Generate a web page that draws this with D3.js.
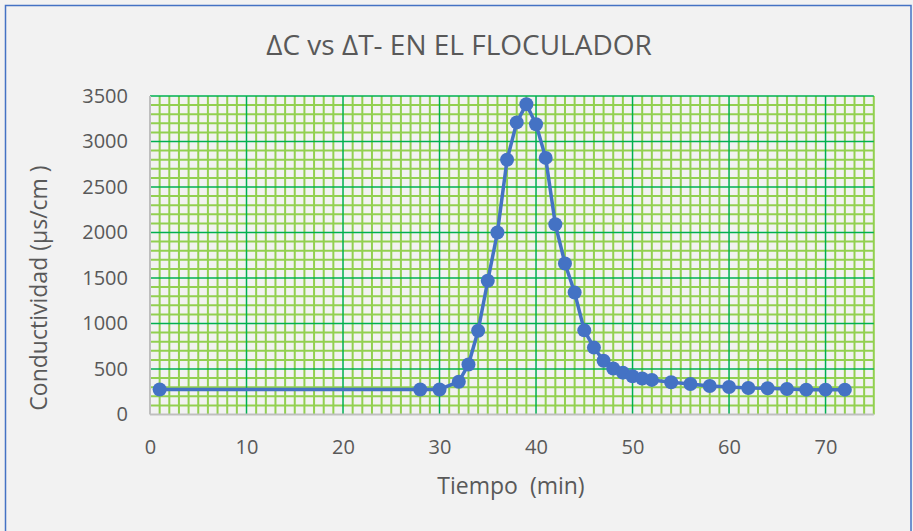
<!DOCTYPE html>
<html>
<head>
<meta charset="utf-8">
<script src="https://cdn.jsdelivr.net/npm/d3@7"></script>
<style>
  body { margin: 0; background: #f2f2f2; }
  text { font-family: "Open Sans", sans-serif; fill: #595959; white-space: pre; }
</style>
</head>
<body>
<script>
/* -----------------------------------------------------
 *  Data
 ----------------------------------------------------- */
const tiempo = [1, 28, 30, 32, 33, 34, 35, 36, 37, 38, 39, 40, 41, 42, 43, 44, 45, 46,
  47, 48, 49, 50, 51, 52, 54, 56, 58, 60, 62, 64, 66, 68, 70, 72];
const conductividad = [275, 275, 275, 360, 550, 920, 1470, 2000, 2800, 3210, 3410, 3190,
  2820, 2090, 1660, 1340, 925, 735, 590, 505, 460, 420, 395, 380, 355, 335, 313, 302,
  291, 288, 280, 273, 273, 273];
const xTicks = [0, 10, 20, 30, 40, 50, 60, 70];
const yTicks = [0, 500, 1000, 1500, 2000, 2500, 3000, 3500];

const title = "ΔC vs ΔT- EN EL FLOCULADOR";
const xTitle = "Tiempo  (min)";
const yTitle = "Conductividad (µs/cm )";

/* -----------------------------------------------------
 *  SVG setup
 ----------------------------------------------------- */
const width = 913;
const height = 531;

const svg = d3
  .select("body")
  .append("svg")
  .attr("width", width)
  .attr("height", height);

svg
  .append("rect")
  .attr("x", 5.5)
  .attr("y", 5.5)
  .attr("width", 905.5)
  .attr("height", 540)
  .attr("fill", "#f2f2f2")
  .attr("stroke", "#4472c4")
  .attr("stroke-width", 1.5);

const x = d3.scaleLinear().domain([0, 75]).range([150, 873.8]);
const y = d3.scaleLinear().domain([0, 3500]).range([414.5, 96]);

/* -----------------------------------------------------
 *  Grid: minor every 1 / 100, major every 10 / 500
 ----------------------------------------------------- */
const minorX = d3.range(1, 76).filter((d) => d % 10 !== 0);
const minorY = d3.range(100, 3600, 100).filter((d) => d % 500 !== 0);

const grid = svg.append("g");
grid
  .selectAll(".minorX")
  .data(minorX)
  .enter()
  .append("line")
  .attr("x1", (d) => x(d))
  .attr("x2", (d) => x(d))
  .attr("y1", y(0))
  .attr("y2", y(3500))
  .attr("stroke", "#92d050")
  .attr("stroke-width", 2);
grid
  .selectAll(".minorY")
  .data(minorY)
  .enter()
  .append("line")
  .attr("x1", x(0))
  .attr("x2", x(75))
  .attr("y1", (d) => y(d))
  .attr("y2", (d) => y(d))
  .attr("stroke", "#92d050")
  .attr("stroke-width", 2);
grid
  .selectAll(".majorX")
  .data(xTicks.filter((d) => d > 0))
  .enter()
  .append("line")
  .attr("x1", (d) => x(d))
  .attr("x2", (d) => x(d))
  .attr("y1", y(0))
  .attr("y2", y(3500))
  .attr("stroke", "#00b050")
  .attr("stroke-width", 1.5);
grid
  .selectAll(".majorY")
  .data(yTicks.filter((d) => d > 0))
  .enter()
  .append("line")
  .attr("x1", x(0))
  .attr("x2", x(75))
  .attr("y1", (d) => y(d))
  .attr("y2", (d) => y(d))
  .attr("stroke", "#00b050")
  .attr("stroke-width", 1.5);

// axis lines
svg
  .append("line")
  .attr("x1", x(0))
  .attr("x2", x(75))
  .attr("y1", y(0))
  .attr("y2", y(0))
  .attr("stroke", "#bfbfbf")
  .attr("stroke-width", 2);
svg
  .append("line")
  .attr("x1", x(0))
  .attr("x2", x(0))
  .attr("y1", y(0))
  .attr("y2", y(3500))
  .attr("stroke", "#bfbfbf")
  .attr("stroke-width", 2);

/* -----------------------------------------------------
 *  Axes (labels only)
 ----------------------------------------------------- */
const xAxis = svg
  .append("g")
  .attr("transform", `translate(0,${y(0)})`)
  .call(d3.axisBottom(x).tickValues(xTicks).tickSize(0).tickPadding(25).tickFormat(d3.format("d")));
const yAxis = svg
  .append("g")
  .attr("transform", `translate(${x(0)},0)`)
  .call(d3.axisLeft(y).tickValues(yTicks).tickSize(0).tickPadding(22).tickFormat(d3.format("d")));

[xAxis, yAxis].forEach((g) => {
  g.select(".domain").remove();
  g.selectAll("text")
    .style("font-size", "20px")
    .style("font-family", "Open Sans")
    .attr("fill", "#595959");
});

/* -----------------------------------------------------
 *  Series
 ----------------------------------------------------- */
const points = tiempo.map((t, i) => ({ t: t, c: conductividad[i] }));

svg
  .append("path")
  .datum(points)
  .attr("fill", "none")
  .attr("stroke", "#4472c4")
  .attr("stroke-width", 3.5)
  .attr("stroke-linejoin", "round")
  .attr("d", d3.line().x((d) => x(d.t)).y((d) => y(d.c)));

svg
  .selectAll(".pt")
  .data(points)
  .enter()
  .append("circle")
  .attr("class", "pt")
  .attr("cx", (d) => x(d.t))
  .attr("cy", (d) => y(d.c))
  .attr("r", 7)
  .attr("fill", "#4472c4");

/* -----------------------------------------------------
 *  Titles
 ----------------------------------------------------- */
svg
  .append("text")
  .attr("x", 459)
  .attr("y", 55)
  .attr("text-anchor", "middle")
  .style("font-size", "28px")
  .text(title);

svg
  .append("text")
  .attr("x", 511)
  .attr("y", 494)
  .attr("text-anchor", "middle")
  .style("font-size", "23px")
  .text(xTitle);

svg
  .append("text")
  .attr("transform", "translate(47,288) rotate(-90)")
  .attr("text-anchor", "middle")
  .style("font-size", "23px")
  .text(yTitle);
</script>
</body>
</html>
